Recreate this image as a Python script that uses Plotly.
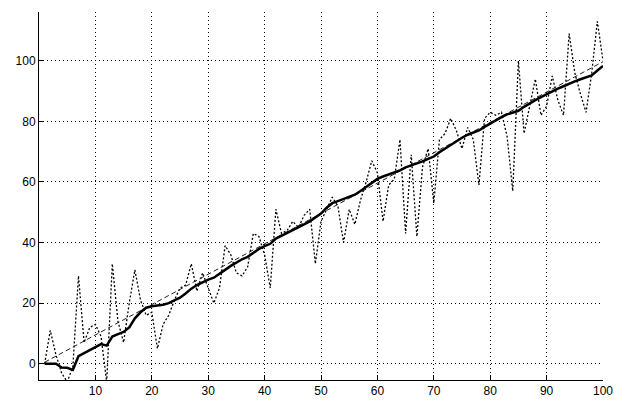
import plotly.graph_objects as go

# noisy measurement series (dotted)
x_noisy = list(range(1, 101))
y_noisy = [0, 11, 3, -3, -6, -1, 29, 7, 12, 13,
           9, -6, 33, 14, 7, 20, 31, 21, 16, 17,
           5, 13, 16, 21, 25, 26, 33, 24, 30, 25,
           20, 25, 39, 36, 30, 29, 32, 43, 42, 36,
           25, 51, 43, 44, 47, 45, 49, 51, 33, 47,
           51, 55, 52, 40, 51, 46, 54, 60, 67, 63,
           47, 59, 61, 74, 43, 69, 42, 65, 71, 53,
           74, 76, 81, 77, 71, 78, 74, 59, 81, 83,
           82, 83, 75, 57, 100, 76, 85, 94, 82, 85,
           95, 87, 82, 109, 96, 89, 83, 96, 113, 100]

# smoothed estimate (thick solid)
x_est = list(range(1, 101))
y_est = [0, 0, 0, -1.2, -1.3, -2, 2.5, 3.5, 4.5, 5.5,
         6.5, 6, 9, 9.8, 10.5, 12, 15, 17, 18.5, 19,
         19.2, 19.5, 20, 20.8, 21.8, 23.2, 24.8, 26, 27, 27.8,
         28.4, 29.6, 31, 32.3, 33.4, 34.5, 35.3, 36.6, 37.9, 38.8,
         39.6, 41.3, 42.2, 43.2, 44.1, 45, 46, 47, 48.3, 49.6,
         51.5, 53, 53.7, 54.4, 55, 55.8, 57, 58.3, 59.6, 61,
         61.8, 62.4, 63, 63.8, 64.8, 65.4, 66, 66.8, 67.6, 68.4,
         69.8, 71, 72.3, 73.5, 74.6, 75.6, 76.4, 77, 78.2, 79.3,
         80.4, 81.4, 82.3, 83, 83.5, 84.8, 86, 87, 88, 89,
         90, 90.8, 91.6, 92.5, 93.2, 93.9, 94.5, 95.2, 96.8, 98.3]

# true trend (thin dashed)
x_true = [1, 100]
y_true = [0.5, 99.7]

x_ticks = [10, 20, 30, 40, 50, 60, 70, 80, 90, 100]
y_ticks = [0, 20, 40, 60, 80, 100]

fig = go.Figure()
fig.add_trace(go.Scatter(x=x_noisy, y=y_noisy, mode="lines",
                         line=dict(color="black", width=1.3, dash="2px,2px")))
fig.add_trace(go.Scatter(x=x_true, y=y_true, mode="lines",
                         line=dict(color="#222222", width=1, dash="5px,3px")))
fig.add_trace(go.Scatter(x=x_est, y=y_est, mode="lines",
                         line=dict(color="black", width=2.5)))

axis_common = dict(
    showline=True, linecolor="black", linewidth=1,
    ticks="inside", ticklen=5, tickcolor="black", tickwidth=1,
    showgrid=True, gridcolor="black", gridwidth=1, griddash="1px,3px",
    zeroline=False, mirror=False,
    tickfont=dict(family="Liberation Sans, Arial, sans-serif", size=12, color="black"),
)

fig.update_layout(
    width=625, height=410,
    margin=dict(l=39, r=17, t=12, b=19),
    paper_bgcolor="white", plot_bgcolor="white",
    showlegend=False,
    xaxis=dict(range=[0, 100], tickvals=x_ticks, ticktext=[str(v) for v in x_ticks], **axis_common),
    yaxis=dict(range=[-5.35, 116.1], tickvals=y_ticks, ticktext=[str(v) for v in y_ticks], **axis_common),
)

fig.write_html("out.html")
